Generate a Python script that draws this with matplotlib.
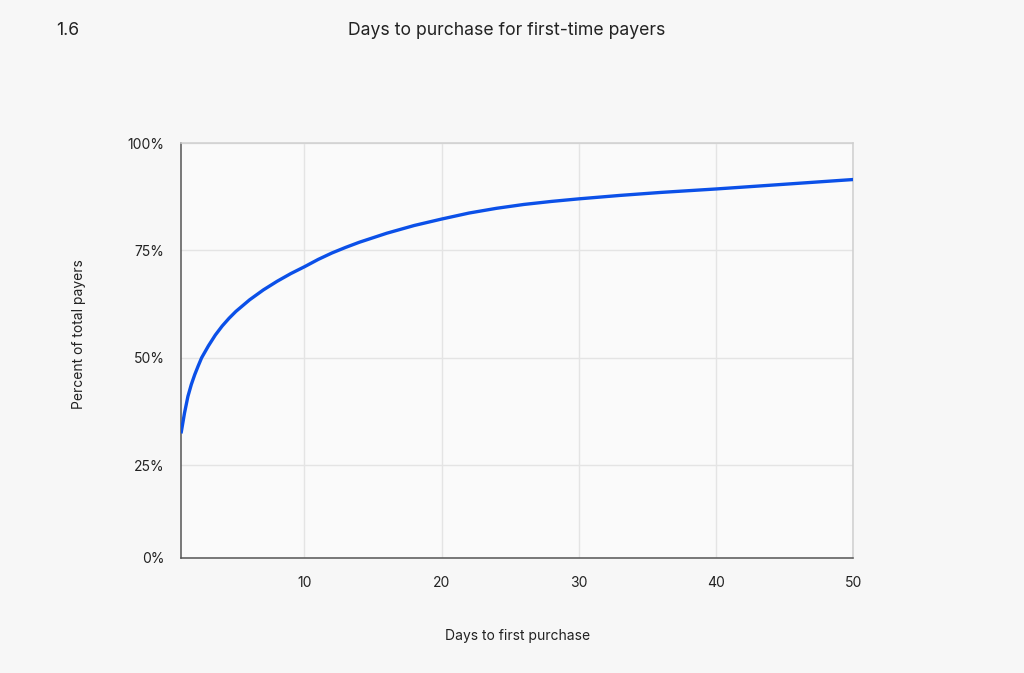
import matplotlib.pyplot as plt

plt.rcParams['font.family'] = ['Inter', 'DejaVu Sans']

# values
days = [1, 1.25, 1.5, 1.75, 2, 2.25, 2.5, 3, 3.5, 4, 4.5, 5, 6, 7, 8, 9, 10, 11, 12,
        13, 14, 16, 18, 20, 22, 24, 26, 28, 30, 33, 36, 40, 45, 50]
pct = [32.4, 37.1, 41.0, 43.8, 46.1, 48.1, 50.0, 52.8, 55.3, 57.4, 59.2, 60.8, 63.5,
       65.8, 67.8, 69.6, 71.2, 72.9, 74.4, 75.7, 76.9, 79.0, 80.8, 82.3, 83.7, 84.8,
       85.7, 86.4, 87.0, 87.8, 88.5, 89.3, 90.4, 91.5]

x_ticks = [10, 20, 30, 40, 50]
y_ticks = [3.4, 25, 50, 75, 100]
y_labels = ['0%', '25%', '50%', '75%', '100%']

fig = plt.figure(figsize=(10.24, 6.73), dpi=100, facecolor='#f7f7f7')
ax = fig.add_axes([0.1768, 0.1709, 0.6563, 0.6166])
ax.set_facecolor('#fafafa')

ax.plot(days, pct, color='#0b50e8', lw=2.4, solid_joinstyle='round',
        solid_capstyle='butt', zorder=3)

ax.set_xlim(1, 50)
ax.set_ylim(3.4, 100)
ax.set_xticks(x_ticks)
ax.set_yticks(y_ticks)
ax.set_yticklabels(y_labels)
ax.tick_params(length=0, labelsize=10, colors='#222222')
ax.tick_params(axis='x', pad=13)
ax.tick_params(axis='y', pad=12)

ax.grid(True, color='#e4e4e4', lw=1)
for s in ['left', 'bottom']:
    ax.spines[s].set_color('#555555')
    ax.spines[s].set_linewidth(1.1)
for s in ['top', 'right']:
    ax.spines[s].set_color('#cfcfcf')
    ax.spines[s].set_linewidth(1.1)

fig.text(0.495, 0.954, 'Days to purchase for first-time payers', ha='center', va='center',
         fontsize=12.7, color='#222222')
fig.text(0.055, 0.954, '1.6', ha='left', va='center', fontsize=12.7, color='#222222')
fig.text(0.505, 0.055, 'Days to first purchase', ha='center', va='center',
         fontsize=10, color='#222222')
fig.text(0.077, 0.503, 'Percent of total payers', ha='center', va='center',
         rotation=90, fontsize=10, color='#222222')

fig.savefig('out.png', dpi=100, facecolor=fig.get_facecolor())
